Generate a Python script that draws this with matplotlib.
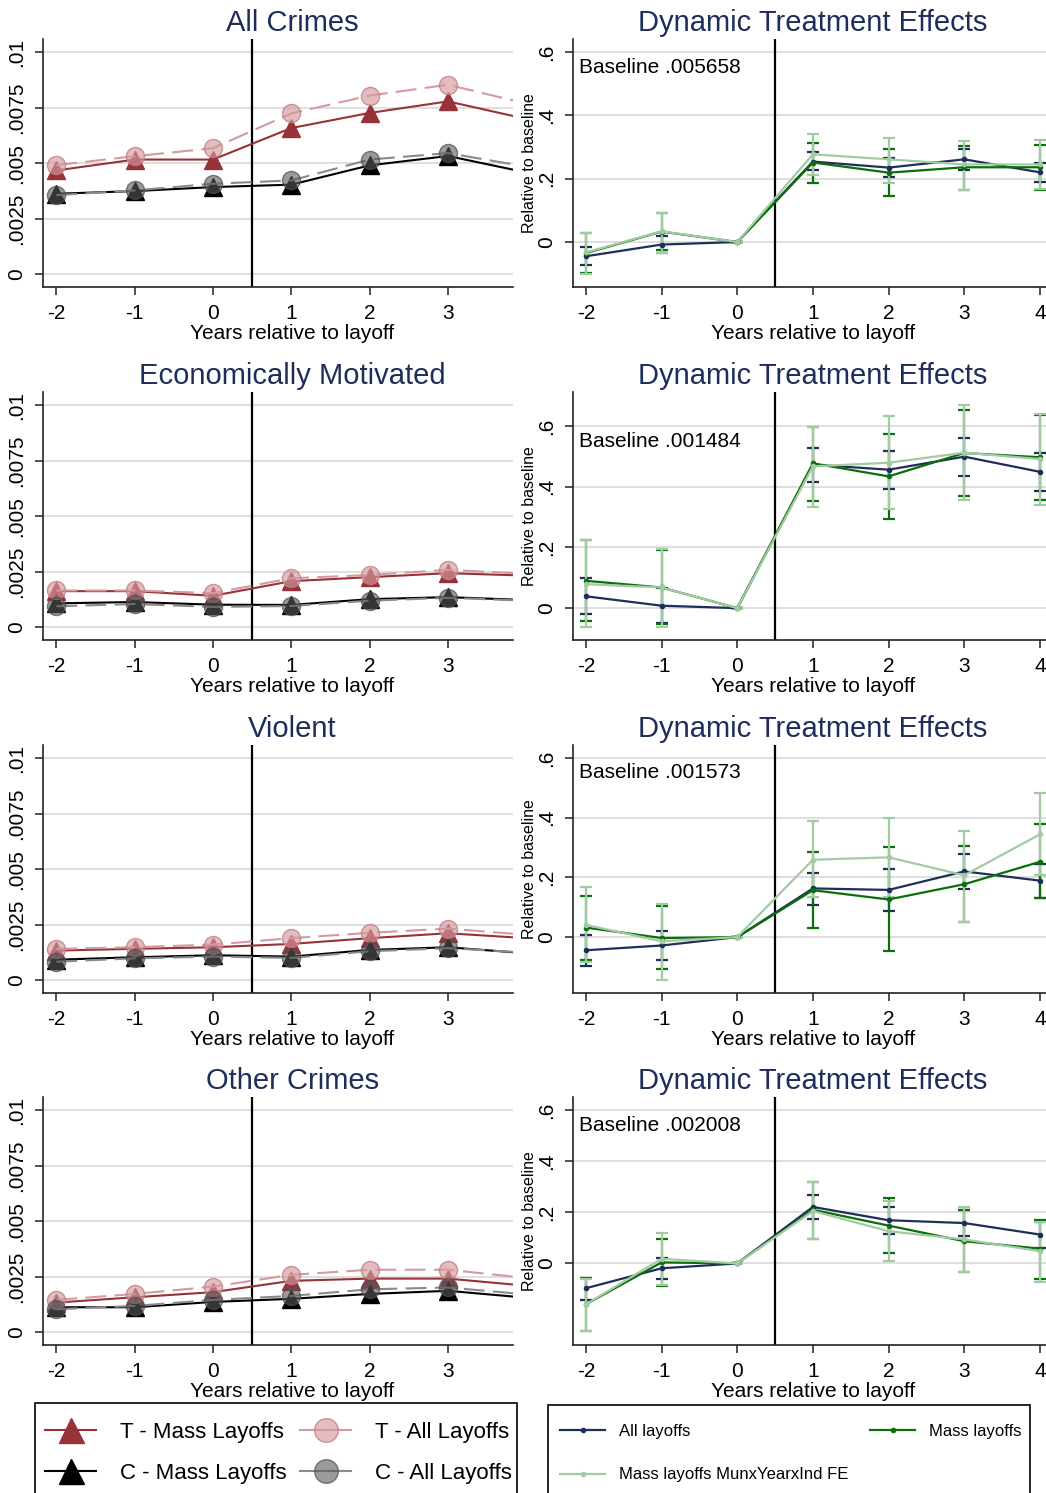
import matplotlib

matplotlib.use("Agg")
import matplotlib.pyplot as plt
from matplotlib.lines import Line2D
from matplotlib.patches import Rectangle

plt.rcParams["font.family"] = ["Liberation Sans", "DejaVu Sans"]
plt.rcParams["axes.unicode_minus"] = False

# ---- data -------------------------------------------------------------
years_left = [-2, -1, 0, 1, 2, 3, 4]
years_right = [-2, -1, 0, 1, 2, 3, 4]

crime_titles = ["All Crimes", "Economically Motivated", "Violent", "Other Crimes"]
baselines = [".005658", ".001484", ".001573", ".002008"]

# raw rates (treated / control, mass layoffs / all layoffs)
all_t_mass = [0.00468, 0.00517, 0.00517, 0.00659, 0.00727, 0.00779, 0.00700]
all_t_all = [0.00492, 0.00532, 0.00568, 0.00725, 0.00805, 0.00854, 0.00769]
all_c_mass = [0.00363, 0.00375, 0.00393, 0.00404, 0.00491, 0.00533, 0.00459]
all_c_all = [0.00357, 0.00378, 0.00408, 0.00423, 0.00517, 0.00546, 0.00485]

econ_t_mass = [0.00163, 0.00163, 0.00142, 0.00208, 0.00226, 0.00244, 0.00233]
econ_t_all = [0.00166, 0.00166, 0.00154, 0.00221, 0.00236, 0.00259, 0.00241]
econ_c_mass = [0.00108, 0.00114, 0.00102, 0.00101, 0.00127, 0.00136, 0.00123]
econ_c_all = [0.00095, 0.00105, 0.00092, 0.00096, 0.00120, 0.00133, 0.00120]

viol_t_mass = [0.00134, 0.00142, 0.00149, 0.00164, 0.00190, 0.00212, 0.00190]
viol_t_all = [0.00142, 0.00149, 0.00161, 0.00190, 0.00214, 0.00233, 0.00205]
viol_c_mass = [0.00093, 0.00104, 0.00113, 0.00107, 0.00137, 0.00149, 0.00122]
viol_c_all = [0.00084, 0.00099, 0.00107, 0.00101, 0.00131, 0.00145, 0.00125]

other_t_mass = [0.00134, 0.00158, 0.00181, 0.00232, 0.00242, 0.00242, 0.00210]
other_t_all = [0.00146, 0.00173, 0.00206, 0.00259, 0.00282, 0.00282, 0.00245]
other_c_mass = [0.00113, 0.00113, 0.00137, 0.00151, 0.00173, 0.00187, 0.00156]
other_c_all = [0.00104, 0.00119, 0.00146, 0.00164, 0.00194, 0.00202, 0.00171]

# dynamic treatment effects, relative to baseline (estimate, lower, upper)
all_est_all = [-0.045, -0.008, 0.0, 0.254, 0.235, 0.261, 0.220]
all_lo_all = [-0.072, -0.035, 0.0, 0.226, 0.204, 0.228, 0.189]
all_hi_all = [-0.017, 0.018, 0.0, 0.283, 0.265, 0.294, 0.250]
all_est_mass = [-0.035, 0.033, 0.0, 0.251, 0.219, 0.236, 0.236]
all_lo_mass = [-0.099, -0.024, 0.0, 0.186, 0.145, 0.165, 0.164]
all_hi_mass = [0.030, 0.093, 0.0, 0.314, 0.295, 0.303, 0.307]
all_est_fe = [-0.033, 0.034, 0.0, 0.277, 0.261, 0.245, 0.245]
all_lo_fe = [-0.100, -0.035, 0.0, 0.211, 0.186, 0.165, 0.167]
all_hi_fe = [0.030, 0.093, 0.0, 0.342, 0.329, 0.318, 0.321]

econ_est_all = [0.039, 0.008, 0.0, 0.473, 0.456, 0.499, 0.449]
econ_lo_all = [-0.019, -0.049, 0.0, 0.417, 0.394, 0.435, 0.387]
econ_hi_all = [0.098, 0.065, 0.0, 0.528, 0.518, 0.562, 0.510]
econ_est_mass = [0.090, 0.068, 0.0, 0.477, 0.434, 0.511, 0.497]
econ_lo_mass = [-0.042, -0.052, 0.0, 0.354, 0.295, 0.371, 0.355]
econ_hi_mass = [0.224, 0.193, 0.0, 0.598, 0.573, 0.654, 0.637]
econ_est_fe = [0.079, 0.068, 0.0, 0.467, 0.479, 0.512, 0.491]
econ_lo_fe = [-0.063, -0.061, 0.0, 0.332, 0.326, 0.355, 0.339]
econ_hi_fe = [0.224, 0.196, 0.0, 0.598, 0.633, 0.670, 0.638]

viol_est_all = [-0.044, -0.028, 0.0, 0.163, 0.158, 0.220, 0.189]
viol_lo_all = [-0.095, -0.075, 0.0, 0.108, 0.089, 0.162, 0.132]
viol_hi_all = [0.006, 0.022, 0.0, 0.215, 0.228, 0.277, 0.246]
viol_est_mass = [0.032, -0.003, 0.0, 0.157, 0.126, 0.177, 0.252]
viol_lo_mass = [-0.076, -0.106, 0.0, 0.032, -0.048, 0.051, 0.131]
viol_hi_mass = [0.138, 0.105, 0.0, 0.285, 0.300, 0.306, 0.380]
viol_est_fe = [0.041, -0.014, 0.0, 0.259, 0.267, 0.207, 0.344]
viol_lo_fe = [-0.084, -0.142, 0.0, 0.133, 0.135, 0.052, 0.207]
viol_hi_fe = [0.168, 0.111, 0.0, 0.387, 0.400, 0.356, 0.483]

other_est_all = [-0.097, -0.019, 0.0, 0.221, 0.169, 0.158, 0.113]
other_lo_all = [-0.142, -0.062, 0.0, 0.173, 0.116, 0.106, 0.062]
other_hi_all = [-0.055, 0.021, 0.0, 0.268, 0.221, 0.210, 0.161]
other_est_mass = [-0.160, 0.004, 0.0, 0.210, 0.148, 0.087, 0.058]
other_lo_mass = [-0.266, -0.088, 0.0, 0.094, 0.039, -0.034, -0.060]
other_hi_mass = [-0.056, 0.094, 0.0, 0.317, 0.257, 0.208, 0.171]
other_est_fe = [-0.160, 0.018, 0.0, 0.205, 0.126, 0.094, 0.048]
other_lo_fe = [-0.266, -0.086, 0.0, 0.094, 0.008, -0.034, -0.071]
other_hi_fe = [-0.060, 0.118, 0.0, 0.317, 0.243, 0.221, 0.162]

left_series = [
    (all_t_mass, all_t_all, all_c_mass, all_c_all),
    (econ_t_mass, econ_t_all, econ_c_mass, econ_c_all),
    (viol_t_mass, viol_t_all, viol_c_mass, viol_c_all),
    (other_t_mass, other_t_all, other_c_mass, other_c_all),
]
right_series = [
    ((all_est_all, all_lo_all, all_hi_all), (all_est_mass, all_lo_mass, all_hi_mass), (all_est_fe, all_lo_fe, all_hi_fe)),
    ((econ_est_all, econ_lo_all, econ_hi_all), (econ_est_mass, econ_lo_mass, econ_hi_mass), (econ_est_fe, econ_lo_fe, econ_hi_fe)),
    ((viol_est_all, viol_lo_all, viol_hi_all), (viol_est_mass, viol_lo_mass, viol_hi_mass), (viol_est_fe, viol_lo_fe, viol_hi_fe)),
    ((other_est_all, other_lo_all, other_hi_all), (other_est_mass, other_lo_mass, other_hi_mass), (other_est_fe, other_lo_fe, other_hi_fe)),
]
right_ylims = [(-0.142, 0.641), (-0.105, 0.712), (-0.187, 0.643), (-0.319, 0.651)]

# ---- style -----------------------------------------------------------
NAVY = "#1F2D5A"
MAROON = "#973238"
PINK = "#D49A9E"
DKGREEN = "#0A6E0A"
LTGREEN = "#A2CBA2"
GRID = "#DCDCDC"
PINK_FILL = (0.83, 0.6, 0.62, 0.65)
PINK_EDGE = (0.75, 0.5, 0.52, 0.8)
GRAY_FILL = (0.35, 0.35, 0.35, 0.6)
GRAY_EDGE = (0.3, 0.3, 0.3, 0.7)

W, H = 1046, 1493
fig = plt.figure(figsize=(W / 100, H / 100), dpi=100)
fig.patch.set_facecolor("white")

ax_tops = [39, 392, 745, 1097]
ax_h = 248


def fbox(x0, x1, top):
    return [x0 / W, 1 - (top + ax_h) / H, (x1 - x0) / W, ax_h / H]


def style_axes(ax, xc):
    for s in ("top", "right"):
        ax.spines[s].set_visible(False)
    for s in ("left", "bottom"):
        ax.spines[s].set_linewidth(1.2)
        ax.spines[s].set_color("#222222")
    ax.tick_params(axis="both", direction="out", length=6, width=1.1, labelsize=15, color="#222222", pad=6)
    ax.tick_params(axis="y", labelrotation=90)
    for lab in ax.get_yticklabels():
        lab.set_va("center")
    ax.grid(axis="y", color=GRID, lw=1.3)
    ax.set_axisbelow(True)
    ax.axvline(0.5, color="black", lw=1.6, zorder=1)
    ax.set_xlabel("Years relative to layoff", fontsize=15)
    ax.xaxis.set_label_coords(xc, -0.148)


for i in range(4):
    # left: raw rates
    ax = fig.add_axes(fbox(43, 513, ax_tops[i]))
    t_mass, t_all, c_mass, c_all = left_series[i]
    ax.plot(years_left, t_mass, color=MAROON, lw=1.5, marker="^", ms=13, mec=MAROON, mfc=MAROON, zorder=3)
    ax.plot(years_left, c_mass, color="black", lw=1.5, marker="^", ms=13, mec="black", mfc="black", zorder=3)
    ax.plot(years_left, t_all, color=PINK, lw=1.5, ls=(0, (10, 4)), marker="o", ms=13,
            mfc=PINK_FILL, mec=PINK_EDGE, zorder=4)
    ax.plot(years_left, c_all, color="#8A8A8A", lw=1.5, ls=(0, (10, 4)), marker="o", ms=13,
            mfc=GRAY_FILL, mec=GRAY_EDGE, zorder=4)
    ax.set_xlim(-2.17, 3.83)
    ax.set_ylim(-0.00057, 0.0106)
    ax.set_xticks([-2, -1, 0, 1, 2, 3])
    ax.set_yticks([0, 0.0025, 0.005, 0.0075, 0.01])
    ax.set_yticklabels(["0", ".0025", ".005", ".0075", ".01"])
    style_axes(ax, 0.53)
    ax.set_title(crime_titles[i], fontsize=21, color=NAVY, pad=6, x=0.53)

    # right: dynamic treatment effects
    ax = fig.add_axes(fbox(573, 1046, ax_tops[i]))
    for (est, lo, hi), col in zip(right_series[i], [NAVY, DKGREEN, LTGREEN]):
        yerr = [[e - l for e, l in zip(est, lo)], [h - e for e, h in zip(est, hi)]]
        ax.errorbar(years_right, est, yerr=yerr, color=col, lw=1.6, elinewidth=1.6,
                    capsize=4, capthick=1.6, marker="o", ms=3, zorder=3, clip_on=False)
    ax.set_xlim(-2.17, 4.08)
    ax.set_ylim(*right_ylims[i])
    ax.set_xticks([-2, -1, 0, 1, 2, 3, 4])
    ax.set_yticks([0, 0.2, 0.4, 0.6])
    ax.set_yticklabels(["0", ".2", ".4", ".6"])
    style_axes(ax, 0.507)
    ax.set_ylabel("Relative to baseline", fontsize=11.5, labelpad=0)
    ax.set_title("Dynamic Treatment Effects", fontsize=21, color=NAVY, pad=6, x=0.507)
    ax.annotate("Baseline " + baselines[i], xy=(-2.09, 0.6), xytext=(0, -4), textcoords="offset points",
                ha="left", va="top", fontsize=15)

# ---- legends -------------------------------------------------------------
fig.patches.append(Rectangle((35 / W, -0.01), (517 - 35) / W, 1 - 1403 / H + 0.01,
                             transform=fig.transFigure, fill=False, ec="black", lw=1.2))
fig.patches.append(Rectangle((548 / W, -0.01), (1030 - 548) / W, 1 - 1405 / H + 0.01,
                             transform=fig.transFigure, fill=False, ec="black", lw=1.2))

h_tm = Line2D([], [], color=MAROON, lw=1.5, marker="^", ms=18, mfc=MAROON, mec=MAROON)
h_cm = Line2D([], [], color="black", lw=1.5, marker="^", ms=18, mfc="black", mec="black")
h_ta = Line2D([], [], color=PINK, lw=1.5, marker="o", ms=17, mfc=PINK_FILL, mec=PINK_EDGE)
h_ca = Line2D([], [], color="#8A8A8A", lw=1.5, marker="o", ms=17, mfc=GRAY_FILL, mec=GRAY_EDGE)

left_kw = dict(loc="upper left", frameon=False, fontsize=16, handlelength=2.3, handletextpad=1.08,
               labelspacing=0.9, borderpad=0, borderaxespad=0)
fig.legend([h_tm, h_cm], ["T - Mass Layoffs", "C - Mass Layoffs"],
           bbox_to_anchor=(45 / W, 1 - 1422 / H), **left_kw)
fig.legend([h_ta, h_ca], ["T - All Layoffs", "C - All Layoffs"],
           bbox_to_anchor=(300 / W, 1 - 1422 / H), **left_kw)

h_all = Line2D([], [], color=NAVY, lw=1.6, marker="o", ms=3)
h_mass = Line2D([], [], color=DKGREEN, lw=1.6, marker="o", ms=3)
h_fe = Line2D([], [], color=LTGREEN, lw=1.6, marker="o", ms=3)
right_kw = dict(loc="upper left", frameon=False, fontsize=12, handlelength=2.7, handletextpad=0.85,
                labelspacing=1.7, borderpad=0, borderaxespad=0)
fig.legend([h_all, h_fe], ["All layoffs", "Mass layoffs MunxYearxInd FE"],
           bbox_to_anchor=(560 / W, 1 - 1424 / H), **right_kw)
fig.legend([h_mass], ["Mass layoffs"],
           bbox_to_anchor=(870 / W, 1 - 1424 / H), **right_kw)

fig.savefig("out.png", dpi=100)
